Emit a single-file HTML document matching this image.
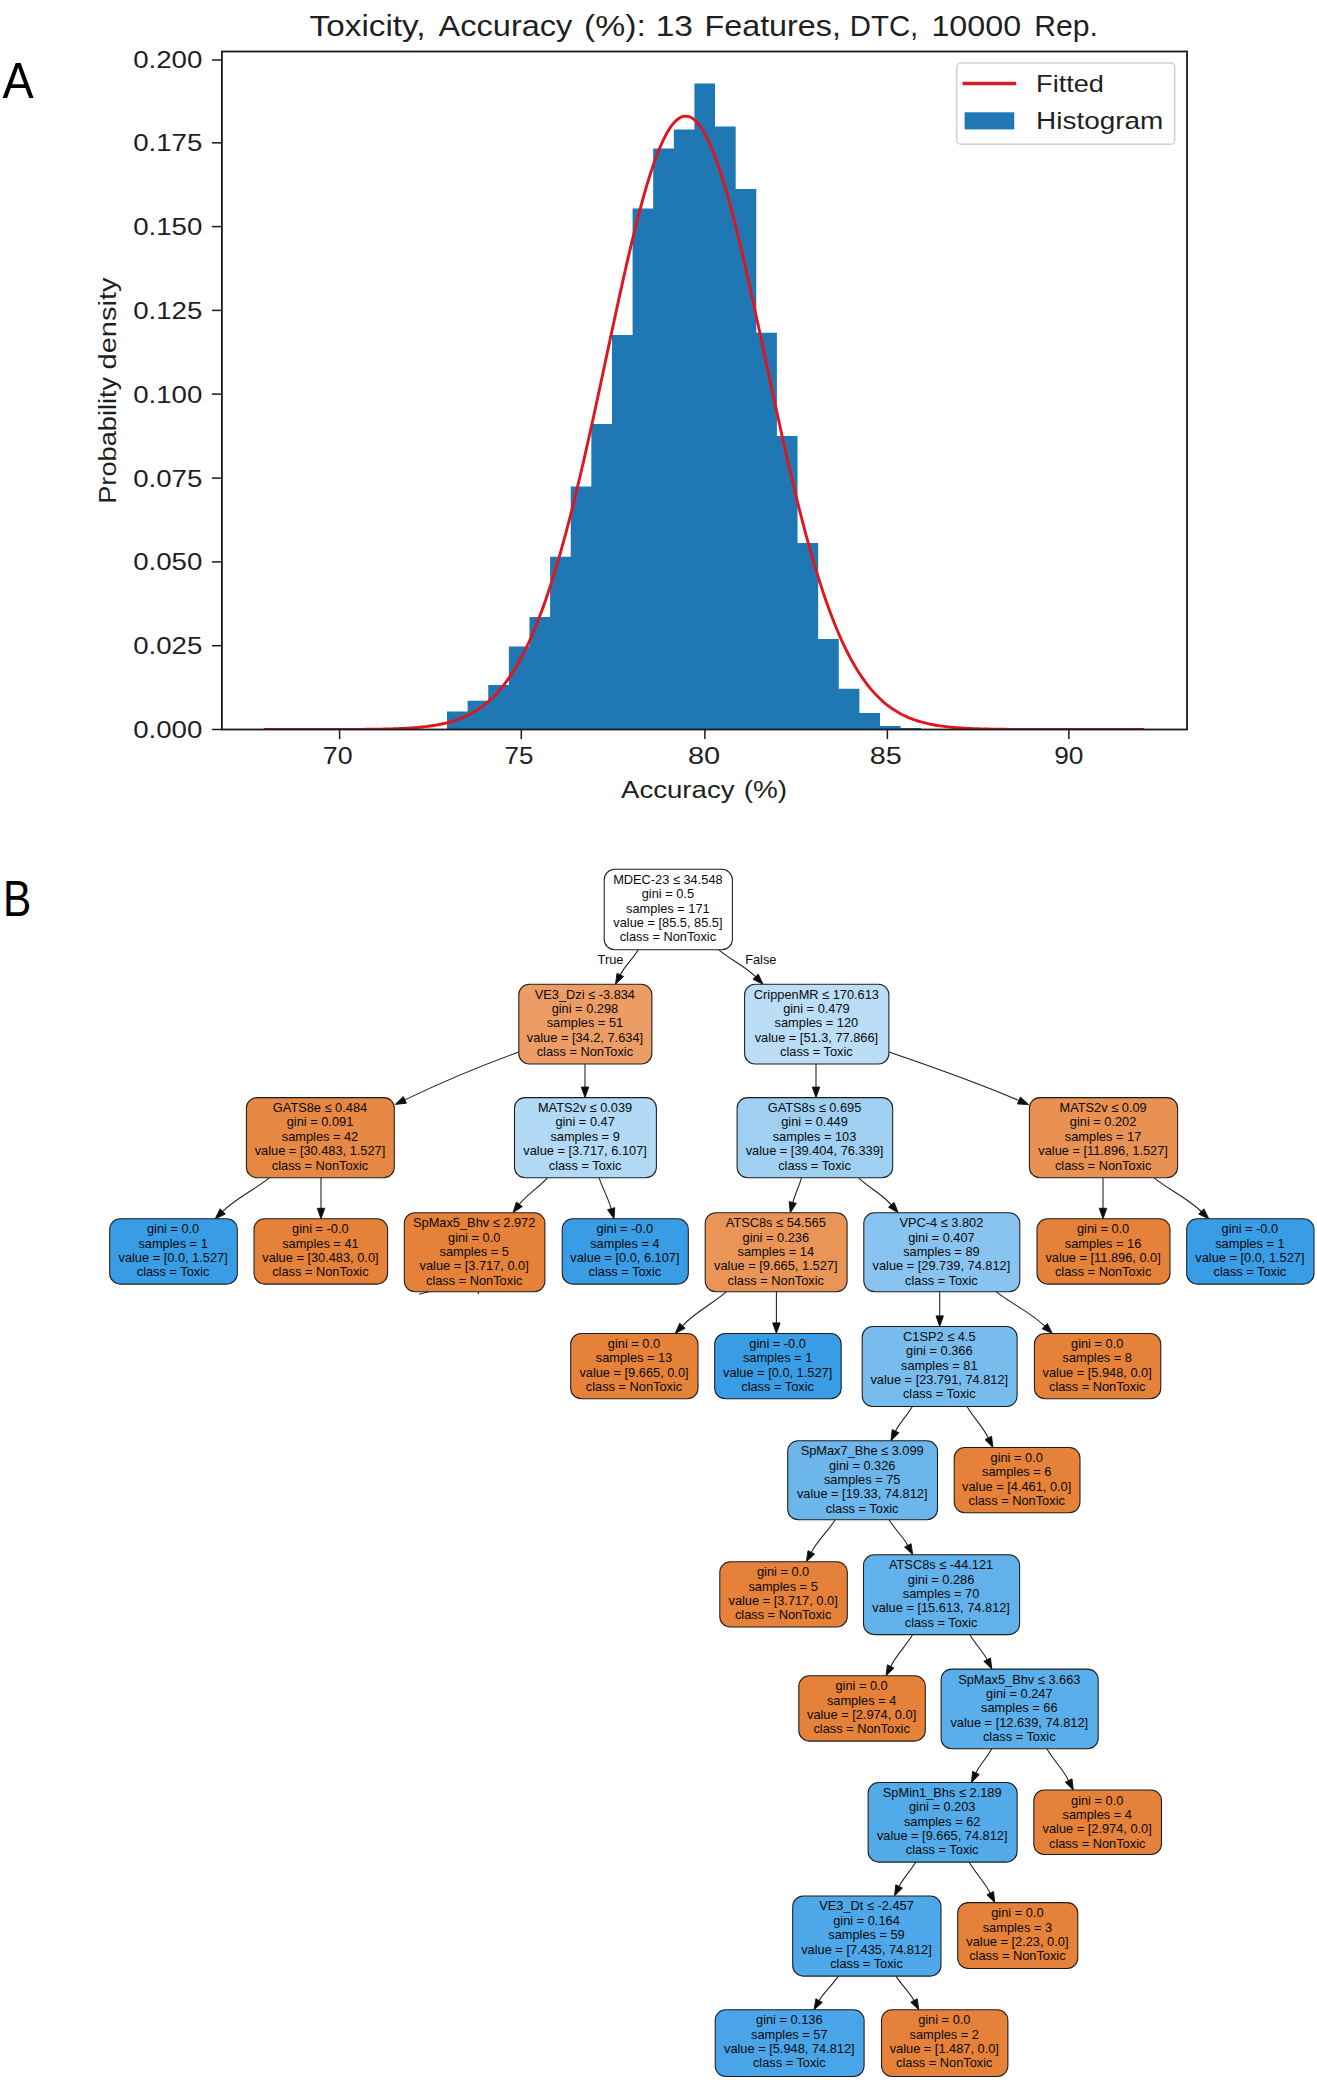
<!DOCTYPE html>
<html lang="en"><head><meta charset="utf-8"><title>Figure</title>
<style>html,body{margin:0;padding:0;background:#fff}body{width:1317px;height:2080px;overflow:hidden}svg{display:block}text{white-space:pre}</style>
</head><body>
<svg width="1317" height="2080" viewBox="0 0 1317 2080">
<rect width="1317" height="2080" fill="#ffffff"/>
<g id="chart" font-family='"Liberation Sans", sans-serif'>
<clipPath id="axclip"><rect x="221.9" y="51.5" width="965.1" height="678.0"/></clipPath>
<path d="M447.00,729.50L447.00,711.40L467.62,711.40L467.62,700.80L488.24,700.80L488.24,685.00L508.86,685.00L508.86,646.50L529.48,646.50L529.48,617.00L550.10,617.00L550.10,556.70L570.72,556.70L570.72,486.60L591.34,486.60L591.34,424.00L611.96,424.00L611.96,335.00L632.58,335.00L632.58,208.50L653.20,208.50L653.20,148.40L673.82,148.40L673.82,129.50L694.44,129.50L694.44,83.50L715.06,83.50L715.06,126.50L735.68,126.50L735.68,189.00L756.30,189.00L756.30,332.70L776.92,332.70L776.92,436.00L797.54,436.00L797.54,543.00L818.16,543.00L818.16,639.00L838.78,639.00L838.78,688.80L859.40,688.80L859.40,713.00L880.02,713.00L880.02,725.90L900.64,725.90L900.64,727.90L921.26,727.90L921.26,729.50Z" fill="#1f77b4"/>
<polyline clip-path="url(#axclip)" points="264.00,729.50 266.00,729.50 268.00,729.50 270.00,729.50 272.00,729.50 274.00,729.50 276.00,729.50 278.00,729.50 280.00,729.50 282.00,729.50 284.00,729.50 286.00,729.50 288.00,729.50 290.00,729.50 292.00,729.50 294.00,729.50 296.00,729.50 298.00,729.50 300.00,729.50 302.00,729.49 304.00,729.49 306.00,729.49 308.00,729.49 310.00,729.49 312.00,729.49 314.00,729.49 316.00,729.49 318.00,729.49 320.00,729.48 322.00,729.48 324.00,729.48 326.00,729.48 328.00,729.48 330.00,729.47 332.00,729.47 334.00,729.47 336.00,729.46 338.00,729.46 340.00,729.45 342.00,729.45 344.00,729.44 346.00,729.43 348.00,729.43 350.00,729.42 352.00,729.41 354.00,729.40 356.00,729.39 358.00,729.38 360.00,729.36 362.00,729.35 364.00,729.33 366.00,729.31 368.00,729.29 370.00,729.27 372.00,729.25 374.00,729.22 376.00,729.19 378.00,729.16 380.00,729.13 382.00,729.09 384.00,729.05 386.00,729.00 388.00,728.96 390.00,728.90 392.00,728.84 394.00,728.78 396.00,728.71 398.00,728.63 400.00,728.55 402.00,728.46 404.00,728.36 406.00,728.26 408.00,728.14 410.00,728.02 412.00,727.88 414.00,727.74 416.00,727.58 418.00,727.41 420.00,727.23 422.00,727.03 424.00,726.81 426.00,726.58 428.00,726.33 430.00,726.06 432.00,725.77 434.00,725.46 436.00,725.13 438.00,724.77 440.00,724.38 442.00,723.97 444.00,723.53 446.00,723.05 448.00,722.55 450.00,722.00 452.00,721.43 454.00,720.81 456.00,720.15 458.00,719.44 460.00,718.69 462.00,717.90 464.00,717.05 466.00,716.14 468.00,715.18 470.00,714.17 472.00,713.09 474.00,711.94 476.00,710.73 478.00,709.44 480.00,708.08 482.00,706.65 484.00,705.13 486.00,703.53 488.00,701.84 490.00,700.06 492.00,698.18 494.00,696.21 496.00,694.13 498.00,691.95 500.00,689.66 502.00,687.26 504.00,684.74 506.00,682.10 508.00,679.33 510.00,676.44 512.00,673.42 514.00,670.26 516.00,666.96 518.00,663.53 520.00,659.95 522.00,656.22 524.00,652.34 526.00,648.30 528.00,644.11 530.00,639.76 532.00,635.25 534.00,630.57 536.00,625.73 538.00,620.71 540.00,615.53 542.00,610.18 544.00,604.66 546.00,598.96 548.00,593.09 550.00,587.05 552.00,580.83 554.00,574.44 556.00,567.88 558.00,561.14 560.00,554.24 562.00,547.17 564.00,539.93 566.00,532.54 568.00,524.98 570.00,517.27 572.00,509.41 574.00,501.40 576.00,493.25 578.00,484.96 580.00,476.54 582.00,468.00 584.00,459.35 586.00,450.58 588.00,441.71 590.00,432.75 592.00,423.70 594.00,414.57 596.00,405.38 598.00,396.14 600.00,386.84 602.00,377.51 604.00,368.16 606.00,358.79 608.00,349.42 610.00,340.06 612.00,330.73 614.00,321.43 616.00,312.17 618.00,302.98 620.00,293.86 622.00,284.83 624.00,275.90 626.00,267.08 628.00,258.39 630.00,249.85 632.00,241.45 634.00,233.23 636.00,225.18 638.00,217.33 640.00,209.69 642.00,202.27 644.00,195.08 646.00,188.14 648.00,181.45 650.00,175.04 652.00,168.90 654.00,163.06 656.00,157.52 658.00,152.29 660.00,147.38 662.00,142.80 664.00,138.56 666.00,134.67 668.00,131.13 670.00,127.95 672.00,125.14 674.00,122.70 676.00,120.64 678.00,118.96 680.00,117.66 682.00,116.75 684.00,116.22 686.00,116.09 688.00,116.34 690.00,116.98 692.00,118.01 694.00,119.43 696.00,121.22 698.00,123.40 700.00,125.95 702.00,128.87 704.00,132.16 706.00,135.81 708.00,139.80 710.00,144.14 712.00,148.82 714.00,153.83 716.00,159.15 718.00,164.79 720.00,170.72 722.00,176.94 724.00,183.44 726.00,190.20 728.00,197.22 730.00,204.48 732.00,211.97 734.00,219.68 736.00,227.59 738.00,235.69 740.00,243.97 742.00,252.41 744.00,261.00 746.00,269.73 748.00,278.58 750.00,287.54 752.00,296.60 754.00,305.74 756.00,314.96 758.00,324.23 760.00,333.54 762.00,342.88 764.00,352.25 766.00,361.62 768.00,370.98 770.00,380.33 772.00,389.65 774.00,398.93 776.00,408.16 778.00,417.33 780.00,426.43 782.00,435.46 784.00,444.39 786.00,453.23 788.00,461.97 790.00,470.59 792.00,479.09 794.00,487.47 796.00,495.72 798.00,503.83 800.00,511.79 802.00,519.61 804.00,527.27 806.00,534.78 808.00,542.13 810.00,549.32 812.00,556.34 814.00,563.19 816.00,569.87 818.00,576.38 820.00,582.72 822.00,588.89 824.00,594.88 826.00,600.70 828.00,606.34 830.00,611.81 832.00,617.11 834.00,622.24 836.00,627.20 838.00,632.00 840.00,636.62 842.00,641.09 844.00,645.39 846.00,649.53 848.00,653.52 850.00,657.36 852.00,661.04 854.00,664.58 856.00,667.97 858.00,671.23 860.00,674.34 862.00,677.33 864.00,680.18 866.00,682.91 868.00,685.51 870.00,687.99 872.00,690.36 874.00,692.62 876.00,694.77 878.00,696.81 880.00,698.76 882.00,700.60 884.00,702.36 886.00,704.02 888.00,705.59 890.00,707.09 892.00,708.50 894.00,709.84 896.00,711.10 898.00,712.29 900.00,713.42 902.00,714.48 904.00,715.48 906.00,716.42 908.00,717.31 910.00,718.14 912.00,718.92 914.00,719.66 916.00,720.35 918.00,721.00 920.00,721.60 922.00,722.17 924.00,722.70 926.00,723.20 928.00,723.66 930.00,724.10 932.00,724.50 934.00,724.88 936.00,725.23 938.00,725.56 940.00,725.86 942.00,726.14 944.00,726.41 946.00,726.65 948.00,726.88 950.00,727.09 952.00,727.28 954.00,727.46 956.00,727.63 958.00,727.78 960.00,727.93 962.00,728.06 964.00,728.18 966.00,728.29 968.00,728.39 970.00,728.49 972.00,728.58 974.00,728.66 976.00,728.73 978.00,728.80 980.00,728.86 982.00,728.92 984.00,728.97 986.00,729.02 988.00,729.06 990.00,729.10 992.00,729.14 994.00,729.17 996.00,729.20 998.00,729.23 1000.00,729.26 1002.00,729.28 1004.00,729.30 1006.00,729.32 1008.00,729.34 1010.00,729.35 1012.00,729.37 1014.00,729.38 1016.00,729.39 1018.00,729.40 1020.00,729.41 1022.00,729.42 1024.00,729.43 1026.00,729.44 1028.00,729.44 1030.00,729.45 1032.00,729.45 1034.00,729.46 1036.00,729.46 1038.00,729.47 1040.00,729.47 1042.00,729.47 1044.00,729.48 1046.00,729.48 1048.00,729.48 1050.00,729.48 1052.00,729.49 1054.00,729.49 1056.00,729.49 1058.00,729.49 1060.00,729.49 1062.00,729.49 1064.00,729.49 1066.00,729.49 1068.00,729.49 1070.00,729.49 1072.00,729.50 1074.00,729.50 1076.00,729.50 1078.00,729.50 1080.00,729.50 1082.00,729.50 1084.00,729.50 1086.00,729.50 1088.00,729.50 1090.00,729.50 1092.00,729.50 1094.00,729.50 1096.00,729.50 1098.00,729.50 1100.00,729.50 1102.00,729.50 1104.00,729.50 1106.00,729.50 1108.00,729.50 1110.00,729.50 1112.00,729.50 1114.00,729.50 1116.00,729.50 1118.00,729.50 1120.00,729.50 1122.00,729.50 1124.00,729.50 1126.00,729.50 1128.00,729.50 1130.00,729.50 1132.00,729.50 1134.00,729.50 1136.00,729.50 1138.00,729.50 1140.00,729.50 1142.00,729.50 1144.00,729.50" fill="none" stroke="#e0161f" stroke-width="2.9" stroke-linejoin="round"/>
<rect x="221.9" y="51.5" width="965.1" height="678.0" fill="none" stroke="#1a1a1a" stroke-width="1.8"/>
<line x1="339.60" y1="729.5" x2="339.60" y2="739.1" stroke="#1a1a1a" stroke-width="1.5"/>
<line x1="521.30" y1="729.5" x2="521.30" y2="739.1" stroke="#1a1a1a" stroke-width="1.5"/>
<line x1="704.90" y1="729.5" x2="704.90" y2="739.1" stroke="#1a1a1a" stroke-width="1.5"/>
<line x1="887.40" y1="729.5" x2="887.40" y2="739.1" stroke="#1a1a1a" stroke-width="1.5"/>
<line x1="1068.90" y1="729.5" x2="1068.90" y2="739.1" stroke="#1a1a1a" stroke-width="1.5"/>
<text x="322.75" y="764.00" font-size="24.5" textLength="29.79" lengthAdjust="spacingAndGlyphs" fill="#1f1f1f">70</text>
<text x="504.55" y="764.00" font-size="24.5" textLength="28.90" lengthAdjust="spacingAndGlyphs" fill="#1f1f1f">75</text>
<text x="687.95" y="764.00" font-size="24.5" textLength="32.30" lengthAdjust="spacingAndGlyphs" fill="#1f1f1f">80</text>
<text x="869.75" y="764.00" font-size="24.5" textLength="32.09" lengthAdjust="spacingAndGlyphs" fill="#1f1f1f">85</text>
<text x="1054.15" y="764.00" font-size="24.5" textLength="29.29" lengthAdjust="spacingAndGlyphs" fill="#1f1f1f">90</text>
<line x1="211.9" y1="729.50" x2="221.9" y2="729.50" stroke="#1a1a1a" stroke-width="1.5"/>
<text x="133.15" y="737.95" font-size="24.5" textLength="69.19" lengthAdjust="spacingAndGlyphs" fill="#1f1f1f">0.000</text>
<line x1="211.9" y1="645.70" x2="221.9" y2="645.70" stroke="#1a1a1a" stroke-width="1.5"/>
<text x="133.15" y="654.15" font-size="24.5" textLength="69.19" lengthAdjust="spacingAndGlyphs" fill="#1f1f1f">0.025</text>
<line x1="211.9" y1="561.90" x2="221.9" y2="561.90" stroke="#1a1a1a" stroke-width="1.5"/>
<text x="133.15" y="570.35" font-size="24.5" textLength="69.19" lengthAdjust="spacingAndGlyphs" fill="#1f1f1f">0.050</text>
<line x1="211.9" y1="478.10" x2="221.9" y2="478.10" stroke="#1a1a1a" stroke-width="1.5"/>
<text x="133.15" y="486.55" font-size="24.5" textLength="69.19" lengthAdjust="spacingAndGlyphs" fill="#1f1f1f">0.075</text>
<line x1="211.9" y1="394.10" x2="221.9" y2="394.10" stroke="#1a1a1a" stroke-width="1.5"/>
<text x="133.15" y="402.55" font-size="24.5" textLength="69.19" lengthAdjust="spacingAndGlyphs" fill="#1f1f1f">0.100</text>
<line x1="211.9" y1="310.40" x2="221.9" y2="310.40" stroke="#1a1a1a" stroke-width="1.5"/>
<text x="133.15" y="318.85" font-size="24.5" textLength="69.19" lengthAdjust="spacingAndGlyphs" fill="#1f1f1f">0.125</text>
<line x1="211.9" y1="226.60" x2="221.9" y2="226.60" stroke="#1a1a1a" stroke-width="1.5"/>
<text x="133.15" y="235.05" font-size="24.5" textLength="69.19" lengthAdjust="spacingAndGlyphs" fill="#1f1f1f">0.150</text>
<line x1="211.9" y1="142.85" x2="221.9" y2="142.85" stroke="#1a1a1a" stroke-width="1.5"/>
<text x="133.15" y="151.30" font-size="24.5" textLength="69.19" lengthAdjust="spacingAndGlyphs" fill="#1f1f1f">0.175</text>
<line x1="211.9" y1="60.00" x2="221.9" y2="60.00" stroke="#1a1a1a" stroke-width="1.5"/>
<text x="133.15" y="68.45" font-size="24.5" textLength="69.19" lengthAdjust="spacingAndGlyphs" fill="#1f1f1f">0.200</text>
<text x="309.63" y="36.00" font-size="28.6" textLength="115.85" lengthAdjust="spacingAndGlyphs" fill="#1f1f1f">Toxicity,</text>
<text x="438.63" y="36.00" font-size="28.6" textLength="133.75" lengthAdjust="spacingAndGlyphs" fill="#1f1f1f">Accuracy</text>
<text x="583.93" y="36.00" font-size="28.6" textLength="61.85" lengthAdjust="spacingAndGlyphs" fill="#1f1f1f">(%):</text>
<text x="655.73" y="36.00" font-size="28.6" textLength="37.25" lengthAdjust="spacingAndGlyphs" fill="#1f1f1f">13</text>
<text x="704.53" y="36.00" font-size="28.6" textLength="136.35" lengthAdjust="spacingAndGlyphs" fill="#1f1f1f">Features,</text>
<text x="849.83" y="36.00" font-size="28.6" textLength="68.45" lengthAdjust="spacingAndGlyphs" fill="#1f1f1f">DTC,</text>
<text x="931.43" y="36.00" font-size="28.6" textLength="89.65" lengthAdjust="spacingAndGlyphs" fill="#1f1f1f">10000</text>
<text x="1034.33" y="36.00" font-size="28.6" textLength="63.55" lengthAdjust="spacingAndGlyphs" fill="#1f1f1f">Rep.</text>
<text x="620.97" y="798.20" font-size="24.2" textLength="113.56" lengthAdjust="spacingAndGlyphs" fill="#1f1f1f">Accuracy</text>
<text x="743.77" y="798.20" font-size="24.2" textLength="43.36" lengthAdjust="spacingAndGlyphs" fill="#1f1f1f">(%)</text>
<g transform="translate(116.3,502.5) rotate(-90)">
<text x="-1.33" y="0.00" font-size="24.2" textLength="127.06" lengthAdjust="spacingAndGlyphs" fill="#1f1f1f">Probability</text>
<text x="133.07" y="0.00" font-size="24.2" textLength="92.01" lengthAdjust="spacingAndGlyphs" fill="#1f1f1f">density</text>
</g>
<rect x="956.8" y="63" width="217.9" height="81.2" rx="4" ry="4" fill="#ffffff" fill-opacity="0.8" stroke="#d2d2d2" stroke-width="1.5"/>
<line x1="962.5" y1="83.5" x2="1016.2" y2="83.5" stroke="#d81c25" stroke-width="3.4"/>
<rect x="964.6" y="112.3" width="49.7" height="17.1" fill="#1f77b4"/>
<text x="1036.05" y="92.40" font-size="24.5" textLength="67.89" lengthAdjust="spacingAndGlyphs" fill="#1f1f1f">Fitted</text>
<text x="1036.05" y="128.70" font-size="24.5" textLength="127.29" lengthAdjust="spacingAndGlyphs" fill="#1f1f1f">Histogram</text>
</g>
<text x="2.5" y="98.4" font-size="50.5" font-family='"Liberation Sans", sans-serif' fill="#000" textLength="31.2" lengthAdjust="spacingAndGlyphs">A</text>
<text x="3.0" y="916.1" font-size="49.5" font-family='"Liberation Sans", sans-serif' fill="#000" textLength="28.3" lengthAdjust="spacingAndGlyphs">B</text>
<g id="tree" font-family='"Liberation Sans", sans-serif' font-size="12.8" text-anchor="middle" fill="#0a0a0a">
<path d="M638.3,949.8C631.9,960.1 624.6,966.3 620.3,974.8" fill="none" stroke="#1c1c1c" stroke-width="1.05"/>
<path d="M615.5,984.2L617.0,973.2L623.6,976.5Z" fill="#0d0d0d" stroke="#0d0d0d" stroke-width="0.9" stroke-linejoin="miter"/>
<path d="M718.8,949.8C731.2,960.1 745.3,966.3 755.6,976.7" fill="none" stroke="#1c1c1c" stroke-width="1.05"/>
<path d="M763.0,984.2L753.0,979.3L758.3,974.1Z" fill="#0d0d0d" stroke="#0d0d0d" stroke-width="0.9" stroke-linejoin="miter"/>
<path d="M585.0,1064.0L585.0,1087.1" fill="none" stroke="#1c1c1c" stroke-width="1.05"/>
<path d="M585.0,1097.6L581.3,1087.1L588.7,1087.1Z" fill="#0d0d0d" stroke="#0d0d0d" stroke-width="0.9" stroke-linejoin="miter"/>
<path d="M816.0,1064.0L816.0,1087.1" fill="none" stroke="#1c1c1c" stroke-width="1.05"/>
<path d="M816.0,1097.6L812.3,1087.1L819.7,1087.1Z" fill="#0d0d0d" stroke="#0d0d0d" stroke-width="0.9" stroke-linejoin="miter"/>
<path d="M269.3,1177.8C254.2,1190.1 236.8,1197.5 222.7,1211.4" fill="none" stroke="#1c1c1c" stroke-width="1.05"/>
<path d="M215.2,1218.8L220.1,1208.8L225.3,1214.1Z" fill="#0d0d0d" stroke="#0d0d0d" stroke-width="0.9" stroke-linejoin="miter"/>
<path d="M321.0,1177.8L321.0,1208.3" fill="none" stroke="#1c1c1c" stroke-width="1.05"/>
<path d="M321.0,1218.8L317.3,1208.3L324.7,1208.3Z" fill="#0d0d0d" stroke="#0d0d0d" stroke-width="0.9" stroke-linejoin="miter"/>
<path d="M547.4,1177.8C537.8,1188.3 526.8,1194.6 519.3,1204.3" fill="none" stroke="#1c1c1c" stroke-width="1.05"/>
<path d="M513.0,1212.7L516.4,1202.1L522.3,1206.6Z" fill="#0d0d0d" stroke="#0d0d0d" stroke-width="0.9" stroke-linejoin="miter"/>
<path d="M599.1,1177.8C603.3,1190.1 608.0,1197.5 611.2,1208.7" fill="none" stroke="#1c1c1c" stroke-width="1.05"/>
<path d="M614.0,1218.8L607.6,1209.7L614.7,1207.7Z" fill="#0d0d0d" stroke="#0d0d0d" stroke-width="0.9" stroke-linejoin="miter"/>
<path d="M801.5,1177.8C798.4,1188.3 794.8,1194.6 792.8,1202.5" fill="none" stroke="#1c1c1c" stroke-width="1.05"/>
<path d="M790.3,1212.7L789.2,1201.6L796.4,1203.4Z" fill="#0d0d0d" stroke="#0d0d0d" stroke-width="0.9" stroke-linejoin="miter"/>
<path d="M858.7,1177.8C869.8,1188.3 882.4,1194.6 891.3,1204.8" fill="none" stroke="#1c1c1c" stroke-width="1.05"/>
<path d="M898.2,1212.7L888.5,1207.2L894.1,1202.4Z" fill="#0d0d0d" stroke="#0d0d0d" stroke-width="0.9" stroke-linejoin="miter"/>
<path d="M1103.0,1177.8L1103.0,1208.3" fill="none" stroke="#1c1c1c" stroke-width="1.05"/>
<path d="M1103.0,1218.8L1099.3,1208.3L1106.7,1208.3Z" fill="#0d0d0d" stroke="#0d0d0d" stroke-width="0.9" stroke-linejoin="miter"/>
<path d="M1154.0,1177.8C1169.3,1190.1 1186.9,1197.5 1201.3,1211.5" fill="none" stroke="#1c1c1c" stroke-width="1.05"/>
<path d="M1208.8,1218.8L1198.7,1214.1L1203.9,1208.8Z" fill="#0d0d0d" stroke="#0d0d0d" stroke-width="0.9" stroke-linejoin="miter"/>
<path d="M726.5,1291.7C712.1,1304.2 695.7,1311.7 682.4,1325.8" fill="none" stroke="#1c1c1c" stroke-width="1.05"/>
<path d="M675.2,1333.4L679.7,1323.2L685.1,1328.3Z" fill="#0d0d0d" stroke="#0d0d0d" stroke-width="0.9" stroke-linejoin="miter"/>
<path d="M776.4,1291.7L776.4,1322.9" fill="none" stroke="#1c1c1c" stroke-width="1.05"/>
<path d="M776.4,1333.4L772.7,1322.9L780.1,1322.9Z" fill="#0d0d0d" stroke="#0d0d0d" stroke-width="0.9" stroke-linejoin="miter"/>
<path d="M939.7,1291.7L939.7,1315.9" fill="none" stroke="#1c1c1c" stroke-width="1.05"/>
<path d="M939.7,1326.4L936.0,1315.9L943.4,1315.9Z" fill="#0d0d0d" stroke="#0d0d0d" stroke-width="0.9" stroke-linejoin="miter"/>
<path d="M996.0,1291.7C1011.8,1304.2 1029.8,1311.7 1044.7,1326.1" fill="none" stroke="#1c1c1c" stroke-width="1.05"/>
<path d="M1052.3,1333.4L1042.2,1328.8L1047.3,1323.5Z" fill="#0d0d0d" stroke="#0d0d0d" stroke-width="0.9" stroke-linejoin="miter"/>
<path d="M912.3,1406.4C906.3,1416.7 899.5,1422.9 895.5,1431.2" fill="none" stroke="#1c1c1c" stroke-width="1.05"/>
<path d="M891.0,1440.7L892.2,1429.6L898.9,1432.8Z" fill="#0d0d0d" stroke="#0d0d0d" stroke-width="0.9" stroke-linejoin="miter"/>
<path d="M967.0,1406.4C974.3,1418.7 982.5,1426.1 988.3,1438.0" fill="none" stroke="#1c1c1c" stroke-width="1.05"/>
<path d="M992.9,1447.4L985.0,1439.6L991.6,1436.3Z" fill="#0d0d0d" stroke="#0d0d0d" stroke-width="0.9" stroke-linejoin="miter"/>
<path d="M835.2,1519.8C827.1,1532.4 817.9,1539.9 811.3,1552.4" fill="none" stroke="#1c1c1c" stroke-width="1.05"/>
<path d="M806.4,1561.7L808.0,1550.7L814.6,1554.1Z" fill="#0d0d0d" stroke="#0d0d0d" stroke-width="0.9" stroke-linejoin="miter"/>
<path d="M889.0,1519.8C895.6,1530.3 903.2,1536.6 907.8,1545.4" fill="none" stroke="#1c1c1c" stroke-width="1.05"/>
<path d="M912.7,1554.7L904.6,1547.1L911.1,1543.7Z" fill="#0d0d0d" stroke="#0d0d0d" stroke-width="0.9" stroke-linejoin="miter"/>
<path d="M912.7,1634.6C905.2,1647.0 896.7,1654.4 890.7,1666.4" fill="none" stroke="#1c1c1c" stroke-width="1.05"/>
<path d="M886.0,1675.8L887.4,1664.8L894.0,1668.1Z" fill="#0d0d0d" stroke="#0d0d0d" stroke-width="0.9" stroke-linejoin="miter"/>
<path d="M969.6,1634.6C975.8,1644.9 982.9,1651.2 987.1,1659.7" fill="none" stroke="#1c1c1c" stroke-width="1.05"/>
<path d="M991.8,1669.1L983.8,1661.3L990.5,1658.0Z" fill="#0d0d0d" stroke="#0d0d0d" stroke-width="0.9" stroke-linejoin="miter"/>
<path d="M991.8,1748.8C986.1,1758.9 979.6,1765.0 975.9,1773.0" fill="none" stroke="#1c1c1c" stroke-width="1.05"/>
<path d="M971.5,1782.5L972.6,1771.4L979.3,1774.5Z" fill="#0d0d0d" stroke="#0d0d0d" stroke-width="0.9" stroke-linejoin="miter"/>
<path d="M1046.8,1748.8C1054.2,1761.2 1062.7,1768.6 1068.6,1780.6" fill="none" stroke="#1c1c1c" stroke-width="1.05"/>
<path d="M1073.3,1790.0L1065.3,1782.2L1072.0,1778.9Z" fill="#0d0d0d" stroke="#0d0d0d" stroke-width="0.9" stroke-linejoin="miter"/>
<path d="M915.8,1862.1C909.8,1872.2 903.0,1878.3 899.1,1886.5" fill="none" stroke="#1c1c1c" stroke-width="1.05"/>
<path d="M894.5,1895.9L895.8,1884.8L902.4,1888.1Z" fill="#0d0d0d" stroke="#0d0d0d" stroke-width="0.9" stroke-linejoin="miter"/>
<path d="M969.0,1862.1C976.2,1874.2 984.5,1881.5 990.2,1893.2" fill="none" stroke="#1c1c1c" stroke-width="1.05"/>
<path d="M994.8,1902.6L986.9,1894.8L993.5,1891.5Z" fill="#0d0d0d" stroke="#0d0d0d" stroke-width="0.9" stroke-linejoin="miter"/>
<path d="M838.3,1976.1C831.5,1986.2 823.7,1992.3 819.1,2000.6" fill="none" stroke="#1c1c1c" stroke-width="1.05"/>
<path d="M814.0,2009.8L815.9,1998.8L822.3,2002.4Z" fill="#0d0d0d" stroke="#0d0d0d" stroke-width="0.9" stroke-linejoin="miter"/>
<path d="M896.0,1976.1C902.4,1986.2 909.7,1992.3 914.0,2000.5" fill="none" stroke="#1c1c1c" stroke-width="1.05"/>
<path d="M918.8,2009.8L910.7,2002.2L917.2,1998.8Z" fill="#0d0d0d" stroke="#0d0d0d" stroke-width="0.9" stroke-linejoin="miter"/>
<path d="M518.8,1052.0C480.0,1066.0 440.0,1083.0 404.8,1099.9" fill="none" stroke="#1c1c1c" stroke-width="1.05"/>
<path d="M395.3,1104.4L403.2,1096.5L406.4,1103.2Z" fill="#0d0d0d" stroke="#0d0d0d" stroke-width="0.9" stroke-linejoin="miter"/>
<path d="M888.9,1052.0C930.0,1066.0 985.0,1086.0 1018.9,1100.5" fill="none" stroke="#1c1c1c" stroke-width="1.05"/>
<path d="M1028.6,1104.6L1017.5,1103.9L1020.4,1097.1Z" fill="#0d0d0d" stroke="#0d0d0d" stroke-width="0.9" stroke-linejoin="miter"/>
<path d="M429,1291.7L419,1294.2M478.3,1291.7L478.3,1294.2" stroke="#1c1c1c" stroke-width="1" fill="none"/>
<text x="610.5" y="963.6">True</text>
<text x="760.8" y="963.6">False</text>
<rect x="604.2" y="869.3" width="128.2" height="80.5" rx="10.6" ry="10.6" fill="#ffffff" stroke="#1c1c1c" stroke-width="1.05"/>
<text x="667.9" y="883.8">MDEC-23 ≤ 34.548</text>
<text x="667.9" y="898.1">gini = 0.5</text>
<text x="667.9" y="912.5">samples = 171</text>
<text x="667.9" y="926.8">value = [85.5, 85.5]</text>
<text x="667.9" y="941.2">class = NonToxic</text>
<rect x="518.8" y="984.2" width="133.1" height="79.8" rx="10.6" ry="10.6" fill="#eb9d65" stroke="#1c1c1c" stroke-width="1.05"/>
<text x="584.9" y="998.7">VE3_Dzi ≤ -3.834</text>
<text x="584.9" y="1013.1">gini = 0.298</text>
<text x="584.9" y="1027.4">samples = 51</text>
<text x="584.9" y="1041.8">value = [34.2, 7.634]</text>
<text x="584.9" y="1056.1">class = NonToxic</text>
<rect x="744.6" y="984.2" width="144.3" height="79.8" rx="10.6" ry="10.6" fill="#bbdef6" stroke="#1c1c1c" stroke-width="1.05"/>
<text x="816.4" y="998.7">CrippenMR ≤ 170.613</text>
<text x="816.4" y="1013.1">gini = 0.479</text>
<text x="816.4" y="1027.4">samples = 120</text>
<text x="816.4" y="1041.8">value = [51.3, 77.866]</text>
<text x="816.4" y="1056.1">class = Toxic</text>
<rect x="246.4" y="1097.6" width="147.9" height="80.2" rx="10.6" ry="10.6" fill="#e68743" stroke="#1c1c1c" stroke-width="1.05"/>
<text x="320.0" y="1112.1">GATS8e ≤ 0.484</text>
<text x="320.0" y="1126.4">gini = 0.091</text>
<text x="320.0" y="1140.8">samples = 42</text>
<text x="320.0" y="1155.1">value = [30.483, 1.527]</text>
<text x="320.0" y="1169.5">class = NonToxic</text>
<rect x="514.5" y="1097.6" width="141.9" height="80.2" rx="10.6" ry="10.6" fill="#b2d9f5" stroke="#1c1c1c" stroke-width="1.05"/>
<text x="585.1" y="1112.1">MATS2v ≤ 0.039</text>
<text x="585.1" y="1126.4">gini = 0.47</text>
<text x="585.1" y="1140.8">samples = 9</text>
<text x="585.1" y="1155.1">value = [3.717, 6.107]</text>
<text x="585.1" y="1169.5">class = Toxic</text>
<rect x="737.1" y="1097.6" width="155.6" height="80.2" rx="10.6" ry="10.6" fill="#9fd0f2" stroke="#1c1c1c" stroke-width="1.05"/>
<text x="814.5" y="1112.1">GATS8s ≤ 0.695</text>
<text x="814.5" y="1126.4">gini = 0.449</text>
<text x="814.5" y="1140.8">samples = 103</text>
<text x="814.5" y="1155.1">value = [39.404, 76.339]</text>
<text x="814.5" y="1169.5">class = Toxic</text>
<rect x="1029.4" y="1097.6" width="148.2" height="80.2" rx="10.6" ry="10.6" fill="#e89152" stroke="#1c1c1c" stroke-width="1.05"/>
<text x="1103.1" y="1112.1">MATS2v ≤ 0.09</text>
<text x="1103.1" y="1126.4">gini = 0.202</text>
<text x="1103.1" y="1140.8">samples = 17</text>
<text x="1103.1" y="1155.1">value = [11.896, 1.527]</text>
<text x="1103.1" y="1169.5">class = NonToxic</text>
<rect x="109.7" y="1218.8" width="127.6" height="65.3" rx="10.6" ry="10.6" fill="#399de5" stroke="#1c1c1c" stroke-width="1.05"/>
<text x="173.1" y="1233.4">gini = 0.0</text>
<text x="173.1" y="1247.7">samples = 1</text>
<text x="173.1" y="1262.1">value = [0.0, 1.527]</text>
<text x="173.1" y="1276.4">class = Toxic</text>
<rect x="254.0" y="1218.8" width="133.6" height="65.3" rx="10.6" ry="10.6" fill="#e58139" stroke="#1c1c1c" stroke-width="1.05"/>
<text x="320.4" y="1233.4">gini = -0.0</text>
<text x="320.4" y="1247.7">samples = 41</text>
<text x="320.4" y="1262.1">value = [30.483, 0.0]</text>
<text x="320.4" y="1276.4">class = NonToxic</text>
<rect x="404.3" y="1212.7" width="140.6" height="79.0" rx="10.6" ry="10.6" fill="#e58139" stroke="#1c1c1c" stroke-width="1.05"/>
<text x="474.2" y="1227.2">SpMax5_Bhv ≤ 2.972</text>
<text x="474.2" y="1241.5">gini = 0.0</text>
<text x="474.2" y="1255.9">samples = 5</text>
<text x="474.2" y="1270.2">value = [3.717, 0.0]</text>
<text x="474.2" y="1284.6">class = NonToxic</text>
<rect x="562.2" y="1218.8" width="126.1" height="65.3" rx="10.6" ry="10.6" fill="#399de5" stroke="#1c1c1c" stroke-width="1.05"/>
<text x="624.9" y="1233.4">gini = -0.0</text>
<text x="624.9" y="1247.7">samples = 4</text>
<text x="624.9" y="1262.1">value = [0.0, 6.107]</text>
<text x="624.9" y="1276.4">class = Toxic</text>
<rect x="705.2" y="1212.7" width="141.9" height="79.0" rx="10.6" ry="10.6" fill="#e99558" stroke="#1c1c1c" stroke-width="1.05"/>
<text x="775.8" y="1227.2">ATSC8s ≤ 54.565</text>
<text x="775.8" y="1241.5">gini = 0.236</text>
<text x="775.8" y="1255.9">samples = 14</text>
<text x="775.8" y="1270.2">value = [9.665, 1.527]</text>
<text x="775.8" y="1284.6">class = NonToxic</text>
<rect x="863.8" y="1212.7" width="156.0" height="79.0" rx="10.6" ry="10.6" fill="#88c4ef" stroke="#1c1c1c" stroke-width="1.05"/>
<text x="941.4" y="1227.2">VPC-4 ≤ 3.802</text>
<text x="941.4" y="1241.5">gini = 0.407</text>
<text x="941.4" y="1255.9">samples = 89</text>
<text x="941.4" y="1270.2">value = [29.739, 74.812]</text>
<text x="941.4" y="1284.6">class = Toxic</text>
<rect x="1037.0" y="1218.8" width="133.0" height="65.3" rx="10.6" ry="10.6" fill="#e58139" stroke="#1c1c1c" stroke-width="1.05"/>
<text x="1103.1" y="1233.4">gini = 0.0</text>
<text x="1103.1" y="1247.7">samples = 16</text>
<text x="1103.1" y="1262.1">value = [11.896, 0.0]</text>
<text x="1103.1" y="1276.4">class = NonToxic</text>
<rect x="1186.7" y="1218.8" width="127.3" height="65.3" rx="10.6" ry="10.6" fill="#399de5" stroke="#1c1c1c" stroke-width="1.05"/>
<text x="1249.9" y="1233.4">gini = -0.0</text>
<text x="1249.9" y="1247.7">samples = 1</text>
<text x="1249.9" y="1262.1">value = [0.0, 1.527]</text>
<text x="1249.9" y="1276.4">class = Toxic</text>
<rect x="570.7" y="1333.4" width="127.3" height="65.4" rx="10.6" ry="10.6" fill="#e58139" stroke="#1c1c1c" stroke-width="1.05"/>
<text x="634.0" y="1348.0">gini = 0.0</text>
<text x="634.0" y="1362.3">samples = 13</text>
<text x="634.0" y="1376.7">value = [9.665, 0.0]</text>
<text x="634.0" y="1391.0">class = NonToxic</text>
<rect x="714.7" y="1333.4" width="126.5" height="65.4" rx="10.6" ry="10.6" fill="#399de5" stroke="#1c1c1c" stroke-width="1.05"/>
<text x="777.6" y="1348.0">gini = -0.0</text>
<text x="777.6" y="1362.3">samples = 1</text>
<text x="777.6" y="1376.7">value = [0.0, 1.527]</text>
<text x="777.6" y="1391.0">class = Toxic</text>
<rect x="862.2" y="1326.4" width="154.9" height="80.0" rx="10.6" ry="10.6" fill="#78bced" stroke="#1c1c1c" stroke-width="1.05"/>
<text x="939.3" y="1340.9">C1SP2 ≤ 4.5</text>
<text x="939.3" y="1355.2">gini = 0.366</text>
<text x="939.3" y="1369.6">samples = 81</text>
<text x="939.3" y="1384.0">value = [23.791, 74.812]</text>
<text x="939.3" y="1398.3">class = Toxic</text>
<rect x="1034.4" y="1333.4" width="126.4" height="65.4" rx="10.6" ry="10.6" fill="#e58139" stroke="#1c1c1c" stroke-width="1.05"/>
<text x="1097.2" y="1348.0">gini = 0.0</text>
<text x="1097.2" y="1362.3">samples = 8</text>
<text x="1097.2" y="1376.7">value = [5.948, 0.0]</text>
<text x="1097.2" y="1391.0">class = NonToxic</text>
<rect x="787.7" y="1440.7" width="149.8" height="79.1" rx="10.6" ry="10.6" fill="#6cb6ec" stroke="#1c1c1c" stroke-width="1.05"/>
<text x="862.2" y="1455.2">SpMax7_Bhe ≤ 3.099</text>
<text x="862.2" y="1469.5">gini = 0.326</text>
<text x="862.2" y="1483.9">samples = 75</text>
<text x="862.2" y="1498.2">value = [19.33, 74.812]</text>
<text x="862.2" y="1512.6">class = Toxic</text>
<rect x="954.2" y="1447.4" width="125.8" height="65.3" rx="10.6" ry="10.6" fill="#e58139" stroke="#1c1c1c" stroke-width="1.05"/>
<text x="1016.7" y="1462.0">gini = 0.0</text>
<text x="1016.7" y="1476.3">samples = 6</text>
<text x="1016.7" y="1490.7">value = [4.461, 0.0]</text>
<text x="1016.7" y="1505.0">class = NonToxic</text>
<rect x="719.8" y="1561.7" width="127.5" height="65.3" rx="10.6" ry="10.6" fill="#e58139" stroke="#1c1c1c" stroke-width="1.05"/>
<text x="783.1" y="1576.3">gini = 0.0</text>
<text x="783.1" y="1590.6">samples = 5</text>
<text x="783.1" y="1605.0">value = [3.717, 0.0]</text>
<text x="783.1" y="1619.3">class = NonToxic</text>
<rect x="863.5" y="1554.7" width="156.1" height="79.9" rx="10.6" ry="10.6" fill="#62b1ea" stroke="#1c1c1c" stroke-width="1.05"/>
<text x="941.1" y="1569.2">ATSC8s ≤ -44.121</text>
<text x="941.1" y="1583.5">gini = 0.286</text>
<text x="941.1" y="1597.9">samples = 70</text>
<text x="941.1" y="1612.2">value = [15.613, 74.812]</text>
<text x="941.1" y="1626.6">class = Toxic</text>
<rect x="798.8" y="1675.8" width="126.5" height="65.3" rx="10.6" ry="10.6" fill="#e58139" stroke="#1c1c1c" stroke-width="1.05"/>
<text x="861.6" y="1690.4">gini = 0.0</text>
<text x="861.6" y="1704.7">samples = 4</text>
<text x="861.6" y="1719.1">value = [2.974, 0.0]</text>
<text x="861.6" y="1733.4">class = NonToxic</text>
<rect x="941.1" y="1669.1" width="157.1" height="79.7" rx="10.6" ry="10.6" fill="#5aaee9" stroke="#1c1c1c" stroke-width="1.05"/>
<text x="1019.3" y="1683.6">SpMax5_Bhv ≤ 3.663</text>
<text x="1019.3" y="1697.9">gini = 0.247</text>
<text x="1019.3" y="1712.3">samples = 66</text>
<text x="1019.3" y="1726.6">value = [12.639, 74.812]</text>
<text x="1019.3" y="1741.0">class = Toxic</text>
<rect x="868.1" y="1782.5" width="149.0" height="79.6" rx="10.6" ry="10.6" fill="#53aae8" stroke="#1c1c1c" stroke-width="1.05"/>
<text x="942.2" y="1797.0">SpMin1_Bhs ≤ 2.189</text>
<text x="942.2" y="1811.3">gini = 0.203</text>
<text x="942.2" y="1825.7">samples = 62</text>
<text x="942.2" y="1840.0">value = [9.665, 74.812]</text>
<text x="942.2" y="1854.4">class = Toxic</text>
<rect x="1033.8" y="1790.0" width="127.7" height="64.5" rx="10.6" ry="10.6" fill="#e58139" stroke="#1c1c1c" stroke-width="1.05"/>
<text x="1097.2" y="1804.6">gini = 0.0</text>
<text x="1097.2" y="1818.9">samples = 4</text>
<text x="1097.2" y="1833.3">value = [2.974, 0.0]</text>
<text x="1097.2" y="1847.6">class = NonToxic</text>
<rect x="792.7" y="1895.9" width="148.3" height="80.2" rx="10.6" ry="10.6" fill="#4da7e8" stroke="#1c1c1c" stroke-width="1.05"/>
<text x="866.5" y="1910.4">VE3_Dt ≤ -2.457</text>
<text x="866.5" y="1924.8">gini = 0.164</text>
<text x="866.5" y="1939.1">samples = 59</text>
<text x="866.5" y="1953.5">value = [7.435, 74.812]</text>
<text x="866.5" y="1967.8">class = Toxic</text>
<rect x="957.7" y="1902.6" width="120.1" height="65.9" rx="10.6" ry="10.6" fill="#e58139" stroke="#1c1c1c" stroke-width="1.05"/>
<text x="1017.4" y="1917.2">gini = 0.0</text>
<text x="1017.4" y="1931.5">samples = 3</text>
<text x="1017.4" y="1945.9">value = [2.23, 0.0]</text>
<text x="1017.4" y="1960.2">class = NonToxic</text>
<rect x="715.2" y="2009.8" width="148.9" height="66.6" rx="10.6" ry="10.6" fill="#49a5e7" stroke="#1c1c1c" stroke-width="1.05"/>
<text x="789.3" y="2024.4">gini = 0.136</text>
<text x="789.3" y="2038.7">samples = 57</text>
<text x="789.3" y="2053.1">value = [5.948, 74.812]</text>
<text x="789.3" y="2067.4">class = Toxic</text>
<rect x="881.5" y="2009.8" width="126.4" height="66.6" rx="10.6" ry="10.6" fill="#e58139" stroke="#1c1c1c" stroke-width="1.05"/>
<text x="944.3" y="2024.4">gini = 0.0</text>
<text x="944.3" y="2038.7">samples = 2</text>
<text x="944.3" y="2053.1">value = [1.487, 0.0]</text>
<text x="944.3" y="2067.4">class = NonToxic</text>
</g>
</svg></body></html>
